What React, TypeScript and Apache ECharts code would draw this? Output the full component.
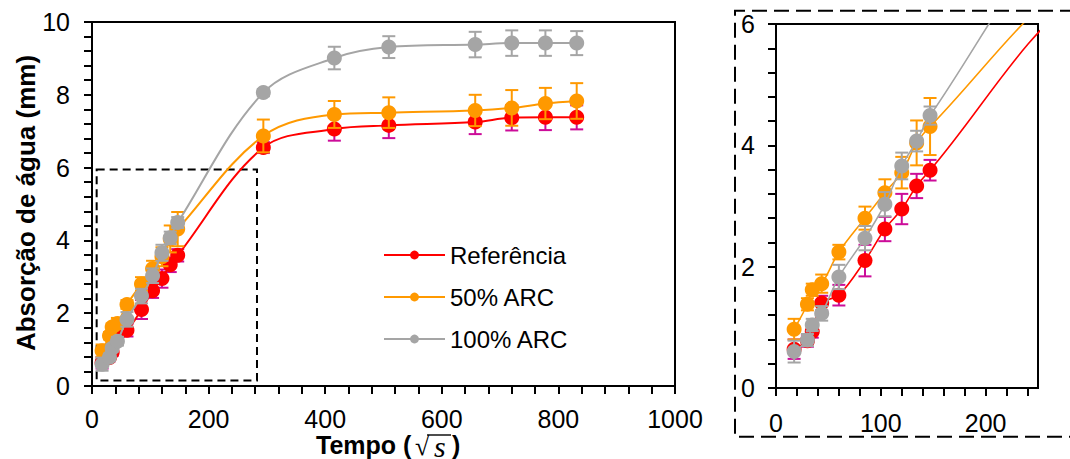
import React, { useEffect, useRef } from "react";
import * as echarts from "echarts";

// time axis (square root of seconds)
const timeSqrt = [17.3, 30, 34.6, 43.6, 60, 84.9, 103.9, 120, 134.2, 147, 293.9, 415.7, 509.1, 657.3, 720, 777.7, 831.4];

const refValues = [0.64, 0.78, 0.93, 1.4, 1.53, 2.1, 2.62, 2.95, 3.33, 3.59, 6.55, 7.06, 7.16, 7.25, 7.37, 7.38, 7.38];
const refErrors = [0.16, 0.1, 0.1, 0.12, 0.17, 0.26, 0.2, 0.25, 0.2, 0.17, 0.15, 0.32, 0.35, 0.33, 0.35, 0.35, 0.33];

const arc50Values = [0.97, 1.38, 1.62, 1.72, 2.24, 2.8, 3.22, 3.55, 4.04, 4.31, 6.87, 7.46, 7.51, 7.57, 7.64, 7.76, 7.83];
const arc50Errors = [0.17, 0.1, 0.1, 0.15, 0.12, 0.19, 0.22, 0.26, 0.37, 0.47, 0.45, 0.37, 0.42, 0.43, 0.49, 0.43, 0.49];

const arc100Values = [0.6, 0.79, 1.04, 1.23, 1.83, 2.47, 3.03, 3.66, 4.07, 4.49, 8.06, 9.01, 9.31, 9.38, 9.42, 9.42, 9.42];
const arc100Errors = [0.18, 0.1, 0.1, 0.12, 0.2, 0.2, 0.2, 0.22, 0.17, 0.15, 0.1, 0.31, 0.3, 0.35, 0.35, 0.35, 0.33];

const seriesNames = ["Referência", "50% ARC", "100% ARC"];
const seriesColors = ["#FF0000", "#FF9900", "#A5A5A5"];
const errorColors = ["#CC0C99", "#FF9900", "#A5A5A5"];

// main axes
const mainXMin = 0, mainXMax = 1000, mainXStep = 200;
const mainYMin = 0, mainYMax = 10, mainYStep = 2;
// inset axes
const insetXMin = 0, insetXMax = 250, insetXStep = 20, insetXLabelStep = 100;
const insetYMin = 0, insetYMax = 6, insetYStep = 2;

// region of the main chart shown in the inset (data units)
const zoomBox = { x0: 8, x1: 283, y0: 0.15, y1: 5.95 };

const FONT = '"Liberation Sans", Arial, sans-serif';
const SERIF = '"Liberation Serif", "Times New Roman", serif';

function errorSeries(name: string, values: number[], errors: number[], color: string, axisIndex: number, z: number, lw: number) {
  return {
    type: "custom",
    name: name + " (erro)",
    xAxisIndex: axisIndex,
    yAxisIndex: axisIndex,
    z,
    clip: true,
    silent: true,
    data: timeSqrt.map((t, i) => [t, values[i], errors[i]]),
    encode: { x: 0, y: 1 },
    renderItem: (params: any, api: any) => {
      const x = api.value(0);
      const y = api.value(1);
      const e = api.value(2);
      const top = api.coord([x, y + e]);
      const bot = api.coord([x, y - e]);
      const hw = 6.5;
      const st = { stroke: color, lineWidth: lw };
      return {
        type: "group",
        children: [
          { type: "line", shape: { x1: top[0], y1: top[1], x2: bot[0], y2: bot[1] }, style: st },
          { type: "line", shape: { x1: top[0] - hw, y1: top[1], x2: top[0] + hw, y2: top[1] }, style: st },
          { type: "line", shape: { x1: bot[0] - hw, y1: bot[1], x2: bot[0] + hw, y2: bot[1] }, style: st },
        ],
      };
    },
  };
}

function lineSeries(name: string, values: number[], color: string, axisIndex: number, z: number, lw: number, extra: any = {}) {
  return {
    type: "line",
    name,
    xAxisIndex: axisIndex,
    yAxisIndex: axisIndex,
    z,
    clip: true,
    smooth: 0.35,
    symbol: "circle",
    symbolSize: 15,
    showAllSymbol: true,
    itemStyle: { color },
    lineStyle: { color, width: lw },
    data: timeSqrt.map((t, i) => [t, values[i]]),
    ...extra,
  };
}

const tickStyle = { color: "#000", width: 2 };

function axisCommon() {
  return {
    type: "value",
    axisLine: { show: true, onZero: false, lineStyle: { color: "#000", width: 2 } },
    axisTick: { show: true, inside: false, length: 8, lineStyle: tickStyle },
    splitLine: { show: false },
  };
}

function labelStyle(margin: number, extra: any = {}) {
  return {
    color: "#000",
    fontSize: 25,
    fontFamily: FONT,
    margin,
    formatter: (v: number) => String(v),
    ...extra,
  };
}

function titlePart(text: string, x: number, y: number, style: any) {
  return {
    type: "text",
    x,
    y,
    style: {
      text,
      fill: "#000",
      align: "left",
      verticalAlign: "middle",
      textAlign: "left",
      textVerticalAlign: "middle",
      ...style,
    },
  };
}

export default function App() {
  const ref = useRef<HTMLDivElement>(null);
  useEffect(() => {
    if (!ref.current) return;
    const chart = echarts.init(ref.current, null, { renderer: "svg" });
    const allValues = [refValues, arc50Values, arc100Values];
    const allErrors = [refErrors, arc50Errors, arc100Errors];
    const series: any[] = [];
    [0, 1].forEach((axisIndex) => {
      const lw = axisIndex === 0 ? 2 : 1.6;
      seriesNames.forEach((name, k) => {
        series.push(errorSeries(name, allValues[k], allErrors[k], errorColors[k], axisIndex, 2 + k * 2, 2));
        const extra: any = {};
        if (axisIndex === 0 && k === 0) {
          extra.markArea = {
            silent: true,
            z: 1,
            itemStyle: { color: "rgba(0,0,0,0)", borderColor: "#000", borderWidth: 2, borderType: [8, 5] },
            data: [[{ coord: [zoomBox.x0, zoomBox.y1] }, { coord: [zoomBox.x1, zoomBox.y0] }]],
          };
        }
        series.push(lineSeries(name, allValues[k], seriesColors[k], axisIndex, 3 + k * 2, lw, extra));
      });
    });

    chart.setOption({
      animation: false,
      backgroundColor: "#fff",
      grid: [
        { left: 92, top: 22, right: 395, bottom: 73, show: true, borderColor: "#000", borderWidth: 2, backgroundColor: "transparent" },
        { left: 776, top: 24, right: 32, bottom: 71, show: true, borderColor: "#000", borderWidth: 2, backgroundColor: "transparent" },
      ],
      xAxis: [
        {
          ...axisCommon(),
          gridIndex: 0,
          min: mainXMin,
          max: mainXMax,
          interval: mainXStep,
          minorTick: { show: true, splitNumber: 5, length: 8, lineStyle: tickStyle },
          axisLabel: labelStyle(20),
        },
        {
          ...axisCommon(),
          gridIndex: 1,
          min: insetXMin,
          max: insetXMax,
          interval: insetXStep,
          axisLabel: labelStyle(22, {
            showMaxLabel: false,
            formatter: (v: number) => (v % insetXLabelStep === 0 ? String(v) : ""),
          }),
        },
      ],
      yAxis: [
        {
          ...axisCommon(),
          gridIndex: 0,
          min: mainYMin,
          max: mainYMax,
          interval: mainYStep,
          minorTick: { show: true, splitNumber: 5, length: 8, lineStyle: tickStyle },
          axisLabel: labelStyle(22),
        },
        {
          ...axisCommon(),
          gridIndex: 1,
          min: insetYMin,
          max: insetYMax,
          interval: insetYStep,
          minorTick: { show: true, splitNumber: 5, length: 8, lineStyle: tickStyle },
          axisLabel: labelStyle(21),
        },
      ],
      legend: {
        data: seriesNames,
        orient: "vertical",
        left: 378,
        top: 236,
        itemWidth: 61,
        itemHeight: 11,
        itemGap: 14,
        selectedMode: false,
        textStyle: { fontSize: 24, fontFamily: FONT, color: "#000", lineHeight: 28 },
      },
      graphic: [
        {
          type: "text",
          x: 26,
          y: 203,
          rotation: Math.PI / 2,
          style: {
            text: "Absorção de água (mm)",
            fontSize: 26,
            fontWeight: "bold",
            fontFamily: FONT,
            fill: "#000",
            align: "center",
            verticalAlign: "middle",
            textAlign: "center",
            textVerticalAlign: "middle",
          },
        },
        titlePart("Tempo (", 316, 445, { fontSize: 25, fontWeight: "bold", fontFamily: FONT }),
        titlePart("√", 415, 446, { fontSize: 26, fontFamily: SERIF, lineHeight: 18 }),
        titlePart("s", 434, 446, { fontSize: 30, fontStyle: "italic", fontFamily: SERIF, lineHeight: 18 }),
        titlePart(")", 452, 445, { fontSize: 25, fontWeight: "bold", fontFamily: FONT }),
        {
          type: "line",
          shape: { x1: 427, y1: 435, x2: 451, y2: 435 },
          style: { stroke: "#000", lineWidth: 1.4 },
        },
        {
          type: "polyline",
          shape: { points: [[1075, 10.7], [735, 10.7], [735, 436.7], [1075, 436.7]] },
          style: { stroke: "#000", lineWidth: 2, lineDash: [15, 7], fill: null },
        },
      ],
      series,
    });
    return () => chart.dispose();
  }, []);
  return <div ref={ref} style={{ position: "absolute", left: 0, top: 0, width: 1070, height: 459 }} />;
}
